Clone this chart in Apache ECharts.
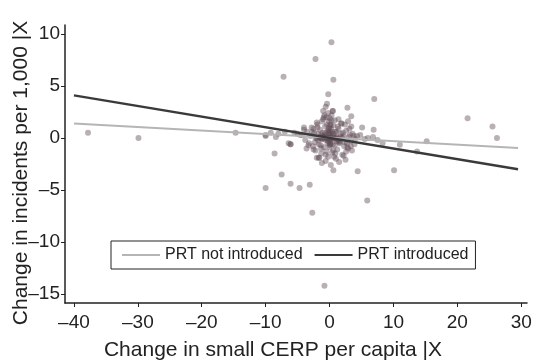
<!DOCTYPE html>
<html>
<head>
<meta charset="utf-8">
<script src="https://cdn.jsdelivr.net/npm/echarts@6/dist/echarts.min.js"></script>
<style>html,body{margin:0;padding:0;background:#fff}#c{width:536px;height:364px}</style>
</head>
<body>
<div id="c"></div>
<script>
// Tick labels
const xTicks = [-40, -30, -20, -10, 0, 10, 20, 30];
const yTicks = [-15, -10, -5, 0, 5, 10];

// Fitted lines (endpoints)
const notIntroducedX = [-40, 29.5];
const notIntroducedY = [1.4, -0.96];
const introducedX = [-40, 29.5];
const introducedY = [4.1, -3.0];

// Scatter points: change in small CERP per capita (x) and change in incidents per 1,000 (y)
const pointX = [
  -37.8, -29.9, -14.7, -10.0, 0.3, -2.2, -7.2, 0.6, -0.2, 7.0, -0.4, 2.8, 0.5, 0.5, 3.4, 21.6, 25.5, 26.2,
  5.1, 6.9, 6.8, 15.2, 11.0, 8.3, 13.7, -6.1, -6.1, -8.6, -7.5, 0.6, 4.4, 10.1, -10.0, -8.4, -4.0, -1.7, 2.5, 3.3,
  -10.0, -6.1, -4.7, -3.1, -2.7, 5.9, -0.8,
  -9.2, -8.0, -7.0, -6.4, -5.5, -5.0, -4.6, 5.5, 4.8, 6.0, 7.5,
  -2.0, -1.6, -1.2, -0.8, -0.4, 0.0, 0.3, 0.7, 1.1, 1.5, -1.8, -1.0, 0.5, 1.3, -0.6, -1.4, -0.2, 0.9, 0.0, -0.9,
  -2.2, -1.5, -0.9, -0.3, 0.4, 1.0, 1.7, 2.0, -1.1, 0.2, 1.2, -0.5,
  0.1, -0.1, 0.0, 0.2, -0.2, 0.1, 0.0, -0.1, 0.2, 0.0, 0.1, -0.1, 0.1, -0.2, 0.0, 0.2,
  -4.3, -3.8, -3.5, -3.2, -3.0, -2.8, -2.6, -2.4, -2.2, -1.9, -1.7, -1.5, -1.3, -1.1, -0.9, -0.7, -0.5, -0.3, -0.2,
  0.4, 0.6, 0.8, 0.9, 1.2, 1.4, 1.6, 1.8, 2.0, 2.2, 2.4, 2.6, 2.8, 3.0, 3.3, 3.6, 4.0, 4.3,
  -0.5, 0.3, -1.0, 0.8, -2.0, 1.0, -3.6, 3.5, 2.4, -4.0,
  -1.0, -0.6, -0.2, -0.8, -1.2, 0.2, 1.5, -0.6, -2.5, 1.9, -3.3, 2.9,
  -2.7, -2.3, -1.8, -1.4, -0.7, 0.5, 1.1, 1.6, 2.1, 2.7, 3.2, 3.8,
  -2.5, -1.9, -1.3, -0.4, 0.6, 1.3, 2.3, 3.1, 3.9,
  -2.0, -1.2, -0.6, 0.3, 0.9, 1.8, 2.6, 3.4,
  -1.6, -0.9, 0.0, 0.7, 1.4, 2.2, 2.9,
  -1.3, -0.3, 0.6, 1.5, -0.7, 0.4, 1.1
];
const pointY = [
  0.5, 0.0, 0.5, 0.2, 9.2, 7.6, 5.9, 5.6, 4.2, 3.75, 3.3, 2.9, 2.6, 2.6, 2.1, 1.9, 1.1, 0.0,
  1.0, 0.8, 0.1, -0.3, -0.65, -0.5, -1.3, -0.6, -0.6, -1.5, -3.5, -3.1, -3.2, -3.1, 0.3, 0.1, 0.8, -1.9, -2.1, -0.8,
  -4.8, -4.4, -4.8, -4.5, -7.2, -6.0, -14.2,
  0.5, 0.4, 0.6, -0.5, 0.5, 0.4, 0.3, -0.1, 0.3, 0.0, -0.2,
  0.0, 0.1, -0.1, 0.0, 0.1, 0.0, -0.1, 0.0, 0.1, -0.1, -0.2, 0.2, 0.2, -0.2, -0.2, 0.0, 0.0, 0.0, -0.1, 0.1,
  0.0, 0.0, 0.1, -0.1, 0.0, -0.1, 0.1, 0.0, -0.1, 0.1, 0.0, 0.0,
  1.3, 1.0, 0.7, 0.4, -0.3, -0.6, -0.9, 1.6, 0.9, 0.3, -0.3, 0.5, -0.5, 0.8, -0.7, 1.2,
  0.3, -0.2, 0.6, -0.5, 0.2, 1.0, -0.8, 0.5, -1.2, 1.3, -0.6, 0.8, -1.5, 0.5, -0.9, 1.1, -1.3, 0.6, -1.8,
  -1.4, 1.2, -0.7, 0.6, -1.1, 0.9, -0.5, 0.4, -1.6, 0.2, -0.4, 0.7, -0.9, 0.1, -0.3, 0.4, -0.1, 0.2,
  2.0, 2.2, 1.8, 1.7, -1.9, -2.0, -1.0, -1.2, 1.3, 1.0,
  2.6, 3.0, 2.4, 2.2, -2.4, -2.6, -2.3, -2.2, 0.9, 1.4, -0.7, -1.0,
  0.6, -0.4, 0.4, -0.7, 0.5, -0.6, 0.6, -0.3, 0.5, -0.5, 0.3, 0.2,
  -1.1, 1.0, -1.0, 1.3, -1.2, 1.1, -0.8, 0.9, -0.6,
  1.5, 1.6, -1.6, 1.7, -1.5, 1.4, -1.3, 1.1,
  -1.9, 2.0, 1.9, -1.8, 1.8, -1.7, 1.6,
  0.3, -0.5, 0.4, -0.4, 0.3, 0.6, -0.3
];

const FONT = '"Liberation Sans", Arial, Helvetica, sans-serif';
const dash = v => String(v).replace('-', '\u2013');

const chart = echarts.init(document.getElementById('c'), null, { renderer: 'canvas' });
chart.setOption({
  animation: false,
  backgroundColor: '#ffffff',
  textStyle: { fontFamily: FONT },
  grid: { left: 65, right: 9, top: 25, bottom: 61, containLabel: false, outerBoundsMode: 'none' },
  legend: {
    data: ['PRT not introduced', 'PRT introduced'],
    left: 111, top: 241,
    orient: 'horizontal',
    icon: 'rect',
    itemWidth: 38, itemHeight: 2, itemGap: 12,
    padding: [6, 7, 6, 11],
    borderColor: '#222', borderWidth: 1, borderRadius: 0,
    backgroundColor: '#fff',
    textStyle: { fontFamily: FONT, fontSize: 16, color: '#222' }
  },
  xAxis: {
    type: 'value',
    min: -41.4, max: 30.9,
    name: 'Change in small CERP per capita |X',
    nameLocation: 'middle',
    nameMoveOverlap: false,
    nameGap: 37,
    nameTextStyle: { fontFamily: FONT, fontSize: 21, color: '#222', padding: [0, 46, 0, 0] },
    axisLine: { show: true, onZero: false, lineStyle: { color: '#222', width: 1.5 } },
    axisTick: { show: true, length: 4, lineStyle: { color: '#222' }, customValues: xTicks },
    axisLabel: { fontFamily: FONT, fontSize: 19, color: '#222', margin: 10, customValues: xTicks, formatter: dash },
    splitLine: { show: false }
  },
  yAxis: {
    type: 'value',
    min: -15.87, max: 10.87,
    name: 'Change in incidents per 1,000 |X',
    nameLocation: 'middle',
    nameMoveOverlap: false,
    nameGap: 33,
    nameRotate: 90,
    nameTextStyle: { fontFamily: FONT, fontSize: 21, color: '#222', padding: [0, 18, 0, 0] },
    axisLine: { show: true, onZero: false, lineStyle: { color: '#222', width: 1.5 } },
    axisTick: { show: true, length: 4, lineStyle: { color: '#222' }, customValues: yTicks },
    axisLabel: { fontFamily: FONT, fontSize: 19, color: '#222', margin: 5, customValues: yTicks, formatter: dash },
    splitLine: { show: false }
  },
  series: [
    {
      name: 'points', type: 'scatter',
      data: pointX.map((x, i) => [x, pointY[i]]),
      symbol: 'circle', symbolSize: 6,
      itemStyle: { color: 'rgba(95,75,85,0.55)' },
      z: 2
    },
    {
      name: 'PRT not introduced', type: 'line',
      data: notIntroducedX.map((x, i) => [x, notIntroducedY[i]]),
      symbol: 'none', lineStyle: { color: '#b5b5b5', width: 2 },
      itemStyle: { color: '#b5b5b5' }, z: 3
    },
    {
      name: 'PRT introduced', type: 'line',
      data: introducedX.map((x, i) => [x, introducedY[i]]),
      symbol: 'none', lineStyle: { color: '#3a3a3a', width: 2.5 },
      itemStyle: { color: '#3a3a3a' }, z: 3
    }
  ]
});
</script>
</body>
</html>
